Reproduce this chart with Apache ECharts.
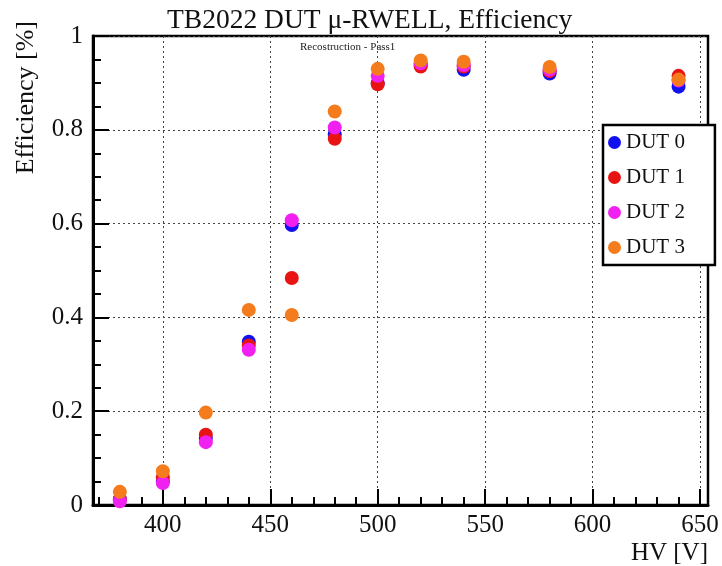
<!DOCTYPE html>
<html>
<head>
<meta charset="utf-8">
<script src="https://cdn.jsdelivr.net/npm/echarts@6/dist/echarts.min.js"></script>
<style>html,body{margin:0;padding:0;background:#fff}#c{width:722px;height:566px}</style>
</head>
<body>
<div id="c"></div>
<script>
const hv   = [380, 400, 420, 440, 460, 480, 500, 520, 540, 580, 640];
const dut0 = [0.012, 0.050, 0.143, 0.348, 0.597, 0.790, 0.900, 0.938, 0.928, 0.920, 0.892];
const dut1 = [0.013, 0.059, 0.150, 0.340, 0.484, 0.781, 0.897, 0.935, 0.935, 0.925, 0.915];
const dut2 = [0.008, 0.047, 0.134, 0.331, 0.607, 0.805, 0.915, 0.942, 0.938, 0.928, 0.905];
const dut3 = [0.028, 0.072, 0.197, 0.416, 0.405, 0.839, 0.930, 0.948, 0.945, 0.934, 0.907];
const seriesNames = ['DUT 0', 'DUT 1', 'DUT 2', 'DUT 3'];
const colors = ['#1010f0', '#e81414', '#f020f0', '#f47c1c'];
const xMajorTicks = [400, 450, 500, 550, 600, 650];
const xMinorTicks = [370, 380, 390, 410, 420, 430, 440, 460, 470, 480, 490, 510, 520, 530, 540, 560, 570, 580, 590, 610, 620, 630, 640];

const F = '"Liberation Serif", "DejaVu Serif", serif';
const allData = [dut0, dut1, dut2, dut3];
const chart = echarts.init(document.getElementById('c'));
const X_MIN = 367.5, X_MAX = 653.7;
chart.setOption({
  animation: false,
  backgroundColor: '#fff',
  title: [
    { text: 'TB2022 DUT μ-RWELL, Efficiency', left: 162, top: 2, textStyle: { fontFamily: F, fontSize: 27.5, fontWeight: 'normal', color: '#111' } },
    { text: 'Recostruction - Pass1', left: 295, top: 37, textStyle: { fontFamily: F, fontSize: 11, fontWeight: 'normal', color: '#222' } }
  ],
  grid: { left: 93, right: 14, top: 36, bottom: 59.5, show: true, borderColor: '#000', borderWidth: 2.5, backgroundColor: 'transparent' },
  legend: {
    orient: 'vertical', left: 603, top: 125,
    data: seriesNames,
    icon: 'circle', itemWidth: 13, itemHeight: 13, itemGap: 14,
    padding: [7, 30, 7, 5],
    backgroundColor: '#fff', borderColor: '#000', borderWidth: 2.5,
    textStyle: { fontFamily: F, fontSize: 21, color: '#111', lineHeight: 20 }
  },
  xAxis: [
    {
      type: 'value', min: X_MIN, max: X_MAX, position: 'bottom',
      name: 'HV [V]', nameLocation: 'end', nameGap: 0,
      nameTextStyle: { fontFamily: F, fontSize: 25, color: '#111', align: 'right', verticalAlign: 'top', padding: [36, 0, 0, 0] },
      axisLine: { show: true, lineStyle: { color: '#000', width: 3 } },
      axisTick: { show: true, inside: true, length: 16, customValues: xMajorTicks, lineStyle: { color: '#000', width: 2 } },
      axisLabel: { customValues: xMajorTicks, fontFamily: F, fontSize: 25, color: '#111', margin: 8 },
      splitLine: { show: true, lineStyle: { color: '#444', type: [2, 3], width: 1 } }
    },
    {
      type: 'value', min: X_MIN, max: X_MAX, position: 'bottom',
      axisLine: { show: false },
      axisTick: { show: true, inside: true, length: 8, customValues: xMinorTicks, lineStyle: { color: '#000', width: 2 } },
      axisLabel: { show: false },
      splitLine: { show: false }
    }
  ],
  yAxis: {
    type: 'value', min: 0, max: 1, interval: 0.2,
    name: 'Efficiency [%]', nameLocation: 'end', nameRotate: 90, nameGap: 15,
    nameTextStyle: { fontFamily: F, fontSize: 26, color: '#111', align: 'right', verticalAlign: 'bottom', padding: [0, 0, 54, 0] },
    axisLine: { show: true, lineStyle: { color: '#000', width: 3 } },
    axisTick: { show: true, inside: true, length: 16, lineStyle: { color: '#000', width: 2 } },
    minorTick: { show: true, splitNumber: 4, length: 8, lineStyle: { color: '#000', width: 2 } },
    axisLabel: { fontFamily: F, fontSize: 25, color: '#111', margin: 10 },
    splitLine: { show: true, lineStyle: { color: '#444', type: [2, 3], width: 1 } }
  },
  series: seriesNames.map((n, i) => ({
    name: n, type: 'scatter', symbol: 'circle', symbolSize: 14,
    itemStyle: { color: colors[i], opacity: 1 },
    data: hv.map((h, j) => [h, allData[i][j]]),
    z: 3 + i
  }))
});
</script>
</body>
</html>
